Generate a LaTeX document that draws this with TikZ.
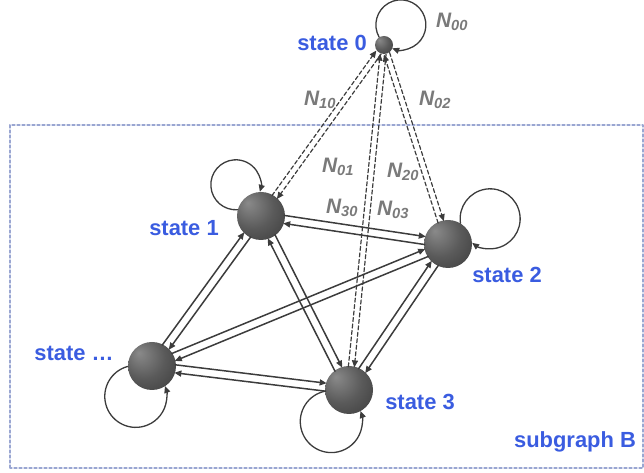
\documentclass[tikz,border=0pt]{standalone}
\usepackage{fontspec}
\setmainfont{Liberation Sans}
\usetikzlibrary{arrows.meta, calc}
\definecolor{inkC}{HTML}{3C3C3C}
\definecolor{stateC}{HTML}{3A5CE0}
\definecolor{rateC}{HTML}{7A7A7A}
\definecolor{frameC}{HTML}{9AA6D2}
\definecolor{ballHiC}{HTML}{8A8A8A}
\definecolor{ballMidC}{HTML}{5A5A5A}
\definecolor{ballLoC}{HTML}{2E2E2E}

\pgfdeclareradialshading{sphereC}{\pgfpoint{-14bp}{14bp}}{%
  color(0bp)=(ballHiC); color(22bp)=(ballMidC); color(52bp)=(ballLoC); color(60bp)=(ballLoC)}

\tikzset{
  state/.style={circle, shading=sphereC, minimum size=48bp, inner sep=0pt},
  small state/.style={state, minimum size=18bp},
  link/.style={inkC, line width=1.5bp, -{Triangle[length=7bp,width=6bp]}},
  selfloop/.style={link, line width=1.3bp},
  flow/.style={link, line width=1.2bp, dash pattern=on 4bp off 2.5bp},
  pair/.style={to path={($(\tikztostart)!#1!90:(\tikztotarget)$) -- ($(\tikztotarget)!#1!-90:(\tikztostart)$)}},
  slabel/.style={text=stateC, font=\fontsize{22}{24}\selectfont\bfseries},
  rlabel/.style={text=rateC, font=\fontsize{21}{23}\selectfont\bfseries\itshape}
}

\begin{document}
\begin{tikzpicture}[
  x=1bp,
  y=1bp,
  line cap=round,
  line join=round
]
\useasboundingbox (0,0) rectangle (644,473);

% Subgraph frame
\draw[frameC, line width=1.1bp, dash pattern=on 3bp off 2bp] (10,5) rectangle (643,348);
\node[slabel] (subB) at (575,31) {subgraph B};

% States
\node[small state] (s0) at (384,428) {};
\node[state] (s1) at (261,257) {};
\node[state] (s2) at (448,229) {};
\node[state] (sd) at (152,107) {};
\node[state] (s3) at (349,83) {};

\node[slabel] (l0) at (332,430) {state 0};
\node[slabel] (l1) at (184,245) {state 1};
\node[slabel] (l2) at (507,198) {state 2};
\node[slabel] (ld) at (74,120) {state \dots};
\node[slabel] (l3) at (420,71) {state 3};

% Transitions inside subgraph B
\foreach \a/\b in {s1/s2, s1/sd, s1/s3, s2/sd, s2/s3, sd/s3}{
  \draw[link, pair=4bp, shorten <=23bp, shorten >=23bp] (\a) to (\b);
  \draw[link, pair=4bp, shorten <=23bp, shorten >=23bp] (\b) to (\a);
}

% Transitions to and from state 0
\foreach \b in {s1,s2,s3}{
  \draw[flow, pair=3bp, shorten <=9bp, shorten >=23bp] (s0) to (\b);
  \draw[flow, pair=3bp, shorten <=23bp, shorten >=9bp] (\b) to (s0);
}

% Self loops
\draw[selfloop] (s0.122) arc[start angle=209.5, end angle=-110.3, radius=25bp];
\draw[selfloop] (s1.165) arc[start angle=274.1, end angle=-16.3, radius=25bp];
\draw[selfloop] (s2.59) arc[start angle=188.5, end angle=-126.9, radius=30bp];
\draw[selfloop] (sd.181) arc[start angle=104.9, end angle=379.7, radius=31bp];
\draw[selfloop] (s3.183) arc[start angle=102, end angle=379.8, radius=31bp];

% Rates
\node[rlabel] (n00) at (452,451) {N\textsubscript{00}};
\node[rlabel] (n10) at (320,373) {N\textsubscript{10}};
\node[rlabel] (n02) at (435,373) {N\textsubscript{02}};
\node[rlabel] (n01) at (338,306) {N\textsubscript{01}};
\node[rlabel] (n20) at (403,301) {N\textsubscript{20}};
\node[rlabel] (n30) at (342,265) {N\textsubscript{30}};
\node[rlabel] (n03) at (393,263) {N\textsubscript{03}};

\end{tikzpicture}
\end{document}
